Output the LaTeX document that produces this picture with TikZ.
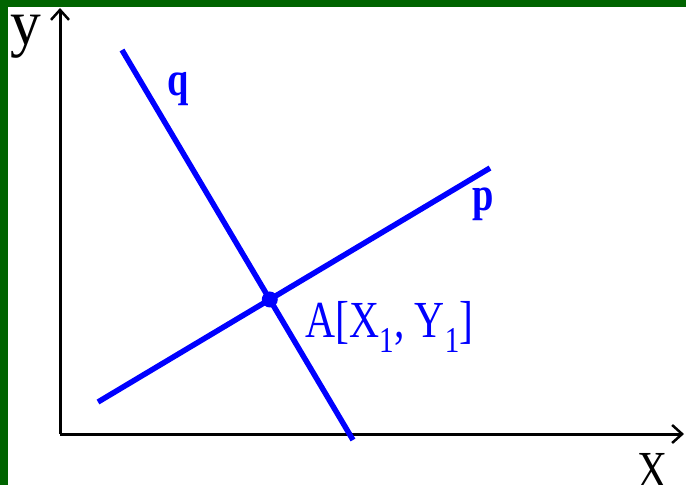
\documentclass[tikz,border=0pt]{standalone}
\usepackage{fontspec}
\setmainfont{Liberation Serif}
\usepackage{tikz}
\usetikzlibrary{arrows.meta}
\definecolor{frame}{RGB}{0,100,0}
\tikzstyle{axis} = [line width=3pt, black, -{Straight Barb[length=10pt, width=18pt, line width=2.5pt]}]
\tikzstyle{line} = [line width=5.5pt, blue, line cap=butt]
\tikzstyle{lbl} = [inner sep=0pt, anchor=base west, xscale=0.8]
\tikzstyle{dot} = [circle, fill=blue, inner sep=0pt, minimum size=16pt]

\begin{document}
\begin{tikzpicture}[x=1pt, y=-1pt]
\useasboundingbox (0,0) rectangle (686,485);

% Frame
\fill [frame] (0,0) rectangle (8,485);
\fill [frame] (0,0) rectangle (686,7);

% Axes
\coordinate (O) at (60,434);
\coordinate (ytip) at (60,8);
\coordinate (xtip) at (684,434);
\draw [axis] (O) -- (ytip);
\draw [axis] (O) -- (xtip);
\node [lbl, xscale=1.2, font=\fontsize{64}{64}\selectfont] (ylab) at (10,44) {y};
\node [lbl, font=\fontsize{52}{52}\selectfont] (xlab) at (637,487) {X};

% Lines
\coordinate (q1) at (122,50);
\coordinate (q2) at (353,440);
\coordinate (p1) at (98,402);
\coordinate (p2) at (490,168);
\draw [line] (q1) -- (q2);
\draw [line] (p1) -- (p2);
\node [lbl, blue, font=\fontsize{48}{48}\selectfont\bfseries] (qlab) at (167,95) {q};
\node [lbl, blue, font=\fontsize{48}{48}\selectfont\bfseries] (plab) at (472,210) {p};

% Intersection
\node [dot] (A) at (intersection of q1--q2 and p1--p2) {};
\node [lbl, blue, font=\fontsize{52}{52}\selectfont] (Alab) at (305,337) {A[X\textsubscript{1}, Y\textsubscript{1}]};

\end{tikzpicture}
\end{document}
